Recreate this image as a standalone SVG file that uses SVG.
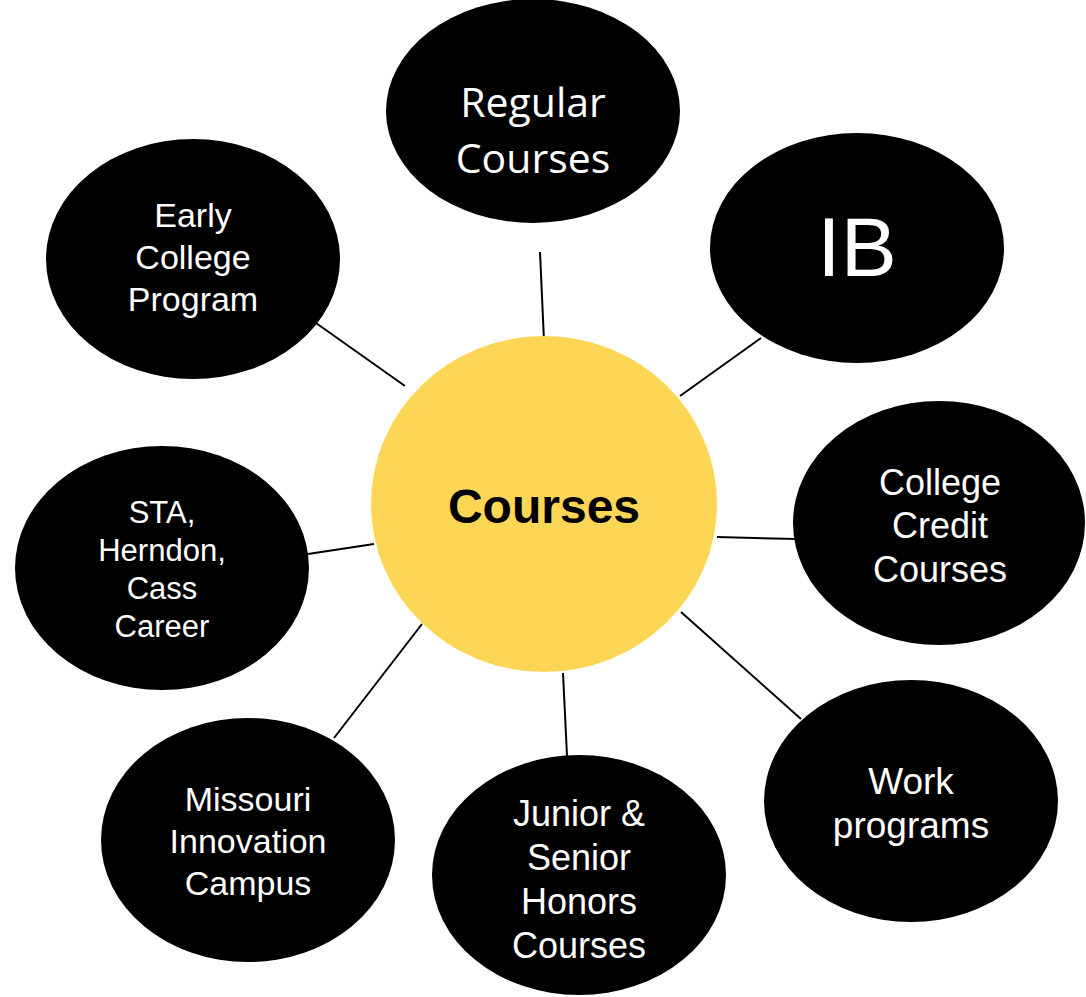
<svg xmlns="http://www.w3.org/2000/svg" width="1086" height="997" viewBox="0 0 1086 997">
<style>
.node{fill:#000000}
.hub{fill:#FDD655}
.lbl{fill:#ffffff;font-family:"Liberation Sans",Arial,sans-serif;text-anchor:middle}
.cal{fill:#ffffff;font-family:"Open Sans","Noto Sans",sans-serif;text-anchor:middle}
.conn line{stroke:#000000;stroke-width:2}
</style>
<rect width="1086" height="997" fill="#ffffff"/>
<g id="connectors" class="conn">
<line x1="540" y1="252" x2="544" y2="341"/>
<line x1="761" y1="338" x2="680" y2="396"/>
<line x1="316" y1="323" x2="405" y2="386"/>
<line x1="308" y1="554" x2="374" y2="544"/>
<line x1="717" y1="537" x2="796" y2="539"/>
<line x1="681" y1="612" x2="801" y2="719"/>
<line x1="563" y1="673" x2="567" y2="756"/>
<line x1="334" y1="738" x2="422" y2="624"/>
</g>
<g id="hub">
<ellipse class="hub" cx="544" cy="504" rx="173" ry="168"/>
<text x="544" y="523" font-family="Liberation Sans,Arial,sans-serif" font-weight="bold" font-size="48" text-anchor="middle" fill="#000000">Courses</text>
</g>
<g id="regular">
<ellipse class="node" cx="533" cy="111" rx="147" ry="112"/>
<text class="cal" font-size="41"><tspan x="533" y="117">Regular</tspan><tspan x="533" y="173">Courses</tspan></text>
</g>
<g id="ib">
<ellipse class="node" cx="857" cy="248" rx="147" ry="115"/>
<text class="lbl" x="857" y="276" font-size="84">IB</text>
</g>
<g id="early">
<ellipse class="node" cx="193" cy="259" rx="147" ry="120"/>
<text class="lbl" font-size="34"><tspan x="193" y="227">Early</tspan><tspan x="193" y="269">College</tspan><tspan x="193" y="311">Program</tspan></text>
</g>
<g id="sta">
<ellipse class="node" cx="162" cy="568" rx="147" ry="122"/>
<text class="lbl" font-size="31"><tspan x="162" y="523">STA,</tspan><tspan x="162" y="561">Herndon,</tspan><tspan x="162" y="599">Cass</tspan><tspan x="162" y="637">Career</tspan></text>
</g>
<g id="college-credit">
<ellipse class="node" cx="939" cy="523" rx="146" ry="122"/>
<text class="lbl" font-size="36"><tspan x="940" y="495">College</tspan><tspan x="940" y="538">Credit</tspan><tspan x="940" y="582">Courses</tspan></text>
</g>
<g id="work">
<ellipse class="node" cx="911" cy="801" rx="147" ry="121"/>
<text class="lbl" font-size="37"><tspan x="911" y="794">Work</tspan><tspan x="911" y="838">programs</tspan></text>
</g>
<g id="honors">
<ellipse class="node" cx="579" cy="875" rx="147" ry="120"/>
<text class="lbl" font-size="36"><tspan x="579" y="826">Junior &amp;</tspan><tspan x="579" y="870">Senior</tspan><tspan x="579" y="914">Honors</tspan><tspan x="579" y="958">Courses</tspan></text>
</g>
<g id="missouri">
<ellipse class="node" cx="248" cy="840" rx="147" ry="122"/>
<text class="lbl" font-size="34"><tspan x="248" y="811">Missouri</tspan><tspan x="248" y="853">Innovation</tspan><tspan x="248" y="895">Campus</tspan></text>
</g>
</svg>
